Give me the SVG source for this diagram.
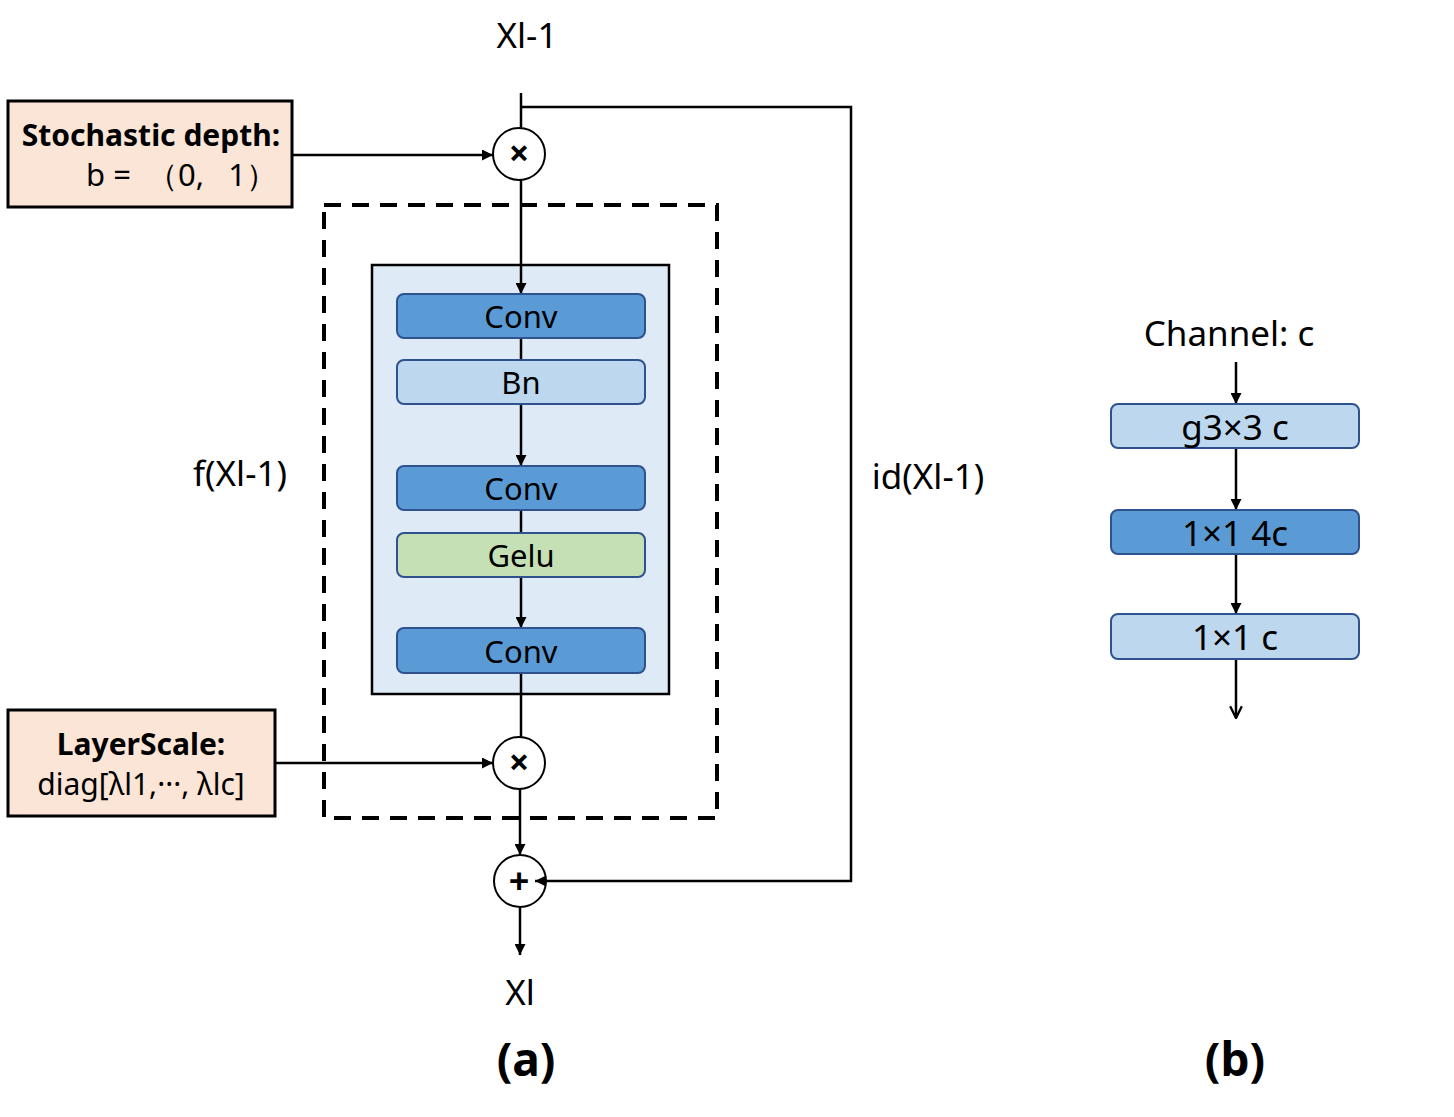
<svg xmlns="http://www.w3.org/2000/svg" width="1454" height="1117" viewBox="0 0 1454 1117">
<style>
text{font-family:"Noto Sans","Open Sans","Liberation Sans",sans-serif;fill:#000;}
.lbl{font-size:35px;text-anchor:middle;}
.blk{font-size:31px;text-anchor:middle;}
.blkb{font-size:35px;text-anchor:middle;}
.bold{font-weight:bold;}
.ln{stroke:#000;stroke-width:2.5;fill:none;}
.dark{fill:#5B9BD5;stroke:#2F528F;stroke-width:2;}
.light{fill:#BDD7EE;stroke:#2F528F;stroke-width:2;}
.green{fill:#C5E0B4;stroke:#2F528F;stroke-width:2;}
.peach{fill:#FBE5D6;stroke:#000;stroke-width:3;}
.op{fill:none;stroke:#000;stroke-width:2;}
.opt{font-size:36px;font-weight:bold;text-anchor:middle;}
</style>
<defs>
<marker id="ah" viewBox="0 0 10 10" refX="10" refY="5" markerWidth="11" markerHeight="11" markerUnits="userSpaceOnUse" orient="auto">
<path d="M0,0 L10,5 L0,10 Z" fill="#000"/>
</marker>
<marker id="av" viewBox="0 0 12 12" refX="11" refY="6" markerWidth="14" markerHeight="14" markerUnits="userSpaceOnUse" orient="auto">
<path d="M1,1 L11,6 L1,11" fill="none" stroke="#000" stroke-width="2"/>
</marker>
</defs>
<rect width="1454" height="1117" fill="#fff"/>

<g id="dashed-frame">
<rect x="324" y="205" width="393" height="613" fill="none" stroke="#000" stroke-width="4" stroke-dasharray="17,11"/>
</g>
<g id="inner-box">
<rect x="372" y="265" width="297" height="429" fill="#DEEBF7" stroke="#000" stroke-width="2.5"/>
</g>

<g id="connectors">
<path class="ln" d="M521,93 L521,128"/>
<path class="ln" d="M521,107 L851,107 L851,881 L535,881" marker-end="url(#ah)"/>
<path class="ln" d="M292,155 L493,155" marker-end="url(#ah)"/>
<path class="ln" d="M521,180 L521,294" marker-end="url(#ah)"/>
<path class="ln" d="M521,338 L521,360"/>
<path class="ln" d="M521,404 L521,466" marker-end="url(#ah)"/>
<path class="ln" d="M521,510 L521,533"/>
<path class="ln" d="M521,577 L521,628" marker-end="url(#ah)"/>
<path class="ln" d="M521,673 L521,737"/>
<path class="ln" d="M275,763 L493,763" marker-end="url(#ah)"/>
<path class="ln" d="M520,789 L520,855" marker-end="url(#ah)"/>
<path class="ln" d="M520,907 L520,955" marker-end="url(#ah)"/>
<path class="ln" d="M1236,362 L1236,404" marker-end="url(#ah)"/>
<path class="ln" d="M1236,448 L1236,510" marker-end="url(#ah)"/>
<path class="ln" d="M1236,554 L1236,614" marker-end="url(#ah)"/>
<path class="ln" d="M1236,659 L1236,718" marker-end="url(#av)"/>
</g>

<g id="stochastic-depth">
<rect class="peach" x="8" y="101" width="284" height="106"/>
<text class="bold" x="151" y="146" font-size="30" text-anchor="middle">Stochastic depth:</text>
<text x="277" y="186" font-size="31" text-anchor="end">b = &#160;（0, &#160;&#160;1）</text>
</g>
<g id="layerscale">
<rect class="peach" x="8" y="710" width="267" height="106"/>
<text class="bold" x="141" y="755" font-size="30" text-anchor="middle">LayerScale:</text>
<text x="141" y="795" font-size="30" text-anchor="middle">diag[λl1,···, λlc]</text>
</g>

<g id="mul-1">
<circle class="op" cx="519" cy="154" r="26"/>
<text class="opt" x="519" y="166">×</text>
</g>
<g id="mul-2">
<circle class="op" cx="519" cy="763" r="26"/>
<text class="opt" x="519" y="775">×</text>
</g>
<g id="add">
<circle class="op" cx="520" cy="881" r="26"/>
<text class="opt" x="519" y="894">+</text>
</g>

<g id="conv-1">
<rect class="dark" x="397" y="294" width="248" height="44" rx="7"/>
<text class="blk" x="521" y="328">Conv</text>
</g>
<g id="bn">
<rect class="light" x="397" y="360" width="248" height="44" rx="7"/>
<text class="blk" x="521" y="394">Bn</text>
</g>
<g id="conv-2">
<rect class="dark" x="397" y="466" width="248" height="44" rx="7"/>
<text class="blk" x="521" y="500">Conv</text>
</g>
<g id="gelu">
<rect class="green" x="397" y="533" width="248" height="44" rx="7"/>
<text class="blk" x="521" y="567">Gelu</text>
</g>
<g id="conv-3">
<rect class="dark" x="397" y="628" width="248" height="45" rx="7"/>
<text class="blk" x="521" y="663">Conv</text>
</g>

<g id="labels">
<text class="lbl" x="527" y="48">Xl-1</text>
<text class="lbl" x="520" y="1005">Xl</text>
<text class="lbl" x="240" y="486">f(Xl-1)</text>
<text class="lbl" x="928" y="489">id(Xl-1)</text>
<text x="526" y="1076" font-size="46" font-weight="bold" text-anchor="middle">(a)</text>
<text x="1235" y="1076" font-size="46" font-weight="bold" text-anchor="middle">(b)</text>
</g>

<g id="channel-label">
<text class="lbl" x="1229" y="346">Channel: c</text>
</g>
<g id="g3x3">
<rect class="light" x="1111" y="404" width="248" height="44" rx="7"/>
<text class="blkb" x="1235" y="440">g3×3 c</text>
</g>
<g id="pw-4c">
<rect class="dark" x="1111" y="510" width="248" height="44" rx="7"/>
<text class="blkb" x="1235" y="546">1×1 4c</text>
</g>
<g id="pw-c">
<rect class="light" x="1111" y="614" width="248" height="45" rx="7"/>
<text class="blkb" x="1235" y="650">1×1 c</text>
</g>
</svg>
